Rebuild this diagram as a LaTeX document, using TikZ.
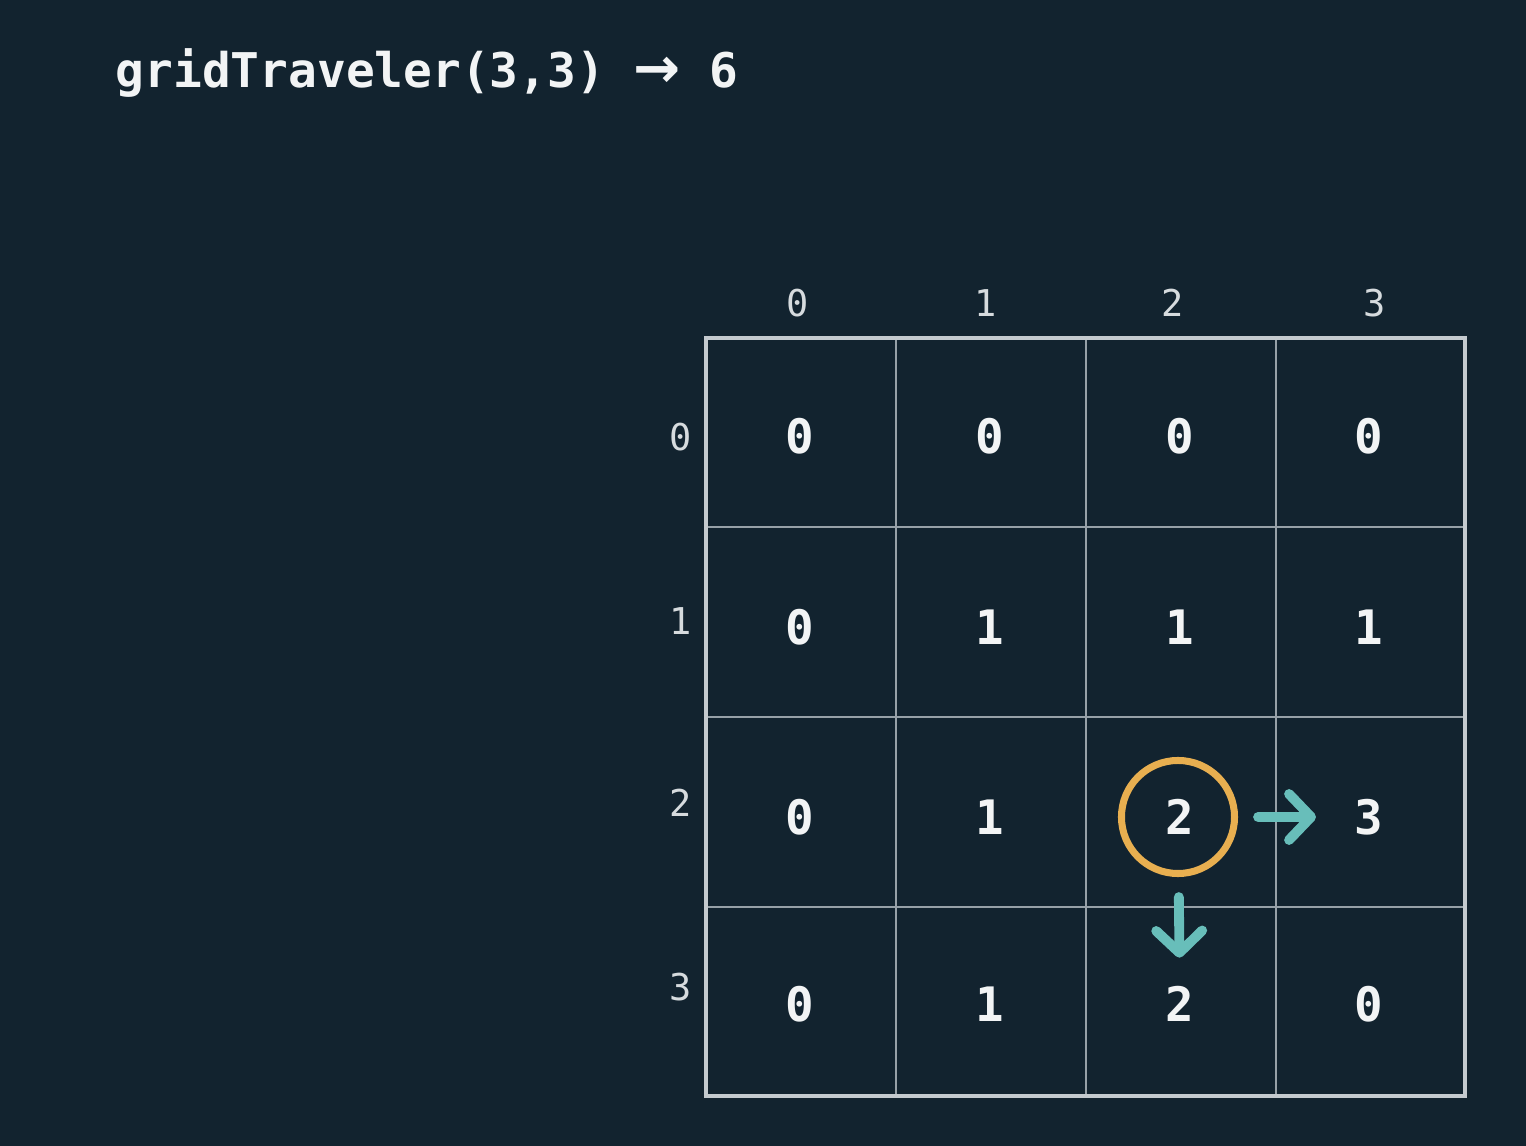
\documentclass[tikz,border=0pt]{standalone}
\usepackage{fontspec}
\setmonofont{DejaVu Sans Mono}
\newfontfamily\arrowfont{DejaVu Sans}
\usetikzlibrary{arrows.meta}
\definecolor{bgnavy}{RGB}{18,35,47}
\definecolor{gridgray}{RGB}{196,202,207}
\definecolor{innergray}{RGB}{150,160,167}
\definecolor{celltext}{RGB}{242,244,245}
\definecolor{headtext}{RGB}{214,219,222}
\definecolor{ringgold}{RGB}{232,175,80}
\definecolor{stepteal}{RGB}{104,190,186}

\begin{document}
\begin{tikzpicture}[x=0.01cm, y=-0.01cm]
    % Define styles
    \tikzset{
        cell/.style={inner sep=0pt, text=celltext, font=\ttfamily\bfseries\fontsize{13.5}{16}\selectfont},
        head/.style={inner sep=0pt, text=headtext, font=\ttfamily\fontsize{10.5}{12}\selectfont},
        ring/.style={circle, draw=ringgold, line width=2pt, minimum size=1.13cm, inner sep=0pt},
        hop/.style={draw=stepteal, line width=2.8pt, line cap=round, -{Straight Barb[round, length=2.2mm, width=4.6mm]}}
    }

    % Background
    \fill[bgnavy] (0,0) rectangle (1526,1146);
    \useasboundingbox (0,0) rectangle (1526,1146);

    % Title
    \node[anchor=base west, inner sep=0pt, text=celltext, font=\ttfamily\bfseries\fontsize{13.6}{17}\selectfont] (Title) at (115,88)
        {gridTraveler(3,3) {\arrowfont\bfseries\fontsize{16}{17}\selectfont→} 6};

    % Grid
    \draw[innergray, line width=0.6pt] (896,338) -- (896,1096) (1086,338) -- (1086,1096) (1276,338) -- (1276,1096);
    \draw[innergray, line width=0.6pt] (706,527) -- (1465,527) (706,717) -- (1465,717) (706,907) -- (1465,907);
    \draw[gridgray, line width=0.9pt] (706,338) rectangle (1465,1096);

    % Define nodes
    \node[head] (Col0) at (798,303) {0};
    \node[head] (Col1) at (986,303) {1};
    \node[head] (Col2) at (1173,303) {2};
    \node[head] (Col3) at (1375,303) {3};
    \node[head] (Row0) at (681,437) {0};
    \node[head] (Row1) at (681,621) {1};
    \node[head] (Row2) at (681,803) {2};
    \node[head] (Row3) at (681,987) {3};

    \node[cell] (C00) at (800,436) {0};
    \node[cell] (C01) at (990,436) {0};
    \node[cell] (C02) at (1180,436) {0};
    \node[cell] (C03) at (1369,436) {0};
    \node[cell] (C10) at (800,627) {0};
    \node[cell] (C11) at (990,627) {1};
    \node[cell] (C12) at (1180,627) {1};
    \node[cell] (C13) at (1369,627) {1};
    \node[cell] (C20) at (800,817) {0};
    \node[cell] (C21) at (990,817) {1};
    \node[cell] (C22) at (1180,817) {2};
    \node[cell] (C23) at (1369,817) {3};
    \node[cell] (C30) at (800,1004) {0};
    \node[cell] (C31) at (990,1004) {1};
    \node[cell] (C32) at (1180,1004) {2};
    \node[cell] (C33) at (1369,1004) {0};

    \node[ring] (Current) at (1178,817) {};

    % Draw steps
    \draw[hop, shorten <=0.2cm, shorten >=0.38cm] (Current) -- (C23);
    \draw[hop, shorten <=0.2cm, shorten >=0.28cm] (Current) -- (C32);
\end{tikzpicture}
\end{document}
